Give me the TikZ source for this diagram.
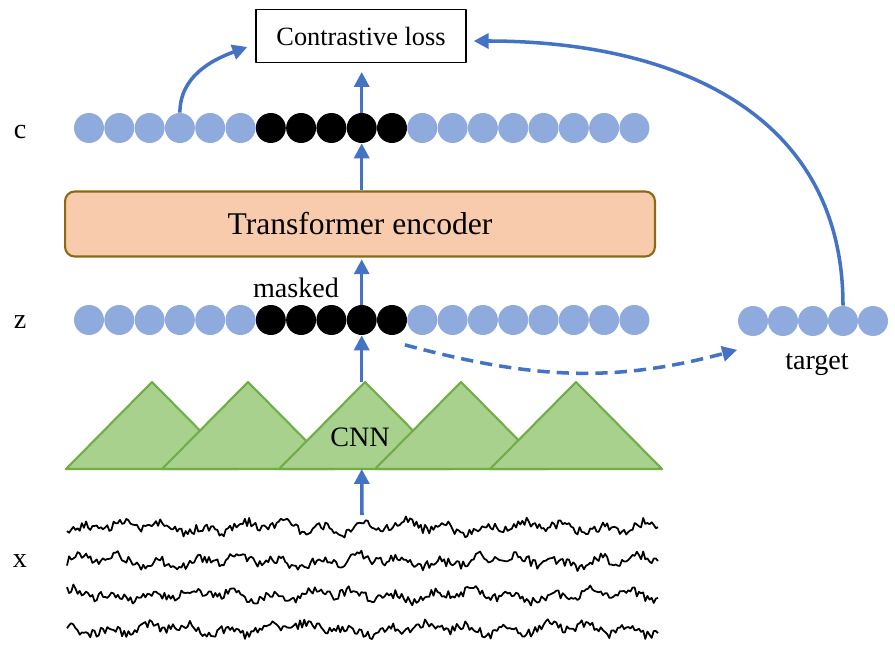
\documentclass[tikz,border=0pt]{standalone}
\usepackage{fontspec}
\setmainfont{Liberation Serif}
\usetikzlibrary{arrows.meta}
\definecolor{arrblue}{HTML}{4472C4}
\definecolor{dotblue}{HTML}{8FAADC}
\definecolor{encfill}{HTML}{F8CBAD}
\definecolor{encline}{HTML}{8C6A14}
\definecolor{trifill}{HTML}{A9D18E}
\definecolor{triline}{HTML}{70AD47}
\begin{document}
\begin{tikzpicture}[x=0.02cm, y=0.02cm, font=\fontsize{16}{19}\selectfont, line join=round, >={Triangle[length=8.5pt,width=8.5pt]},
  dot/.style={circle, fill=dotblue, minimum size=0.6cm, inner sep=0pt},
  mdot/.style={dot, fill=black},
  arr/.style={->, arrblue, line width=2pt},
  tri/.style={fill=trifill, draw=triline, line width=1.2pt}]
\useasboundingbox (0,0) rectangle (895,-658);
\node[draw, line width=0.8pt, minimum width=4.2cm, minimum height=1.06cm, font=\fontsize{15}{18}\selectfont] (loss) at (361,-36) {Contrastive loss};
\node[draw=encline, fill=encfill, rounded corners=5.5pt, line width=1.2pt, minimum width=11.8cm, minimum height=1.3cm, font=\fontsize{18}{21}\selectfont] (enc) at (360,-224) {Transformer encoder};
% c and z rows, masked ones in black
\foreach \r/\y in {c/-128, z/-320} {
  \foreach \i in {1,...,6,12,13,...,19} \node[dot] (\r\i) at ({89+30.3*(\i-1)},\y) {};
  \foreach \i in {7,...,11} \node[mdot] (\r\i) at ({89+30.3*(\i-1)},\y) {};
}
\foreach \i in {1,...,5} \node[dot] (t\i) at ({753+30*(\i-1)},-321) {};
\node (lc) at (20,-132) {c};
\node (lz) at (20,-322) {z};
\node (lx) at (20,-561) {x};
\node (mask) at (296,-288) {masked};
\node (tgt) at (817,-365) {target};
% CNN
\foreach \a in {152,248,365,461,576}
  \draw[tri] (\a-86,-469) -- (\a,-382) -- (\a+86,-469) -- cycle;
\coordinate (cnntop) at (365,-382);
\coordinate (cnnbot) at (365,-469);
\node (cnn) at (360,-437) {CNN};
% raw signal
\foreach \y [count=\k] in {-527,-561,-595,-629} {
  \pgfmathsetseed{\k*37}
  \draw[line width=1pt] plot[domain=67:658, samples=280] (\x, {\y+4.5*rand+3.5*sin(9*\x+50*\k)+3*sin(2.7*\x+90*\k)});
}
\coordinate (xtop) at (362,-515);
\draw[arr] (xtop) -- (z10 |- cnnbot);
\draw[arr] (z10 |- cnntop) -- (z10.south);
\draw[arr, shorten >=1pt] (z10.north) -- (enc.south -| z10);
\draw[arr] (enc.north -| c10) -- (c10.south);
\draw[arr, shorten >=5pt] (c10.north) -- (loss.south -| c10);
\draw[arr] (c4.north) to[out=90, in=200] ([shift={(-8,-11)}]loss.west);
\draw[arr] (t4.north) to[out=90, in=0, looseness=1.1] ([shift={(7,-5)}]loss.east);
\draw[arr, dash pattern=on 7pt off 4pt] ([shift={(2,-14)}]z11.south east) to[out=-15, in=195] ([shift={(-5,-18)}]t1.south west);
\end{tikzpicture}
\end{document}
